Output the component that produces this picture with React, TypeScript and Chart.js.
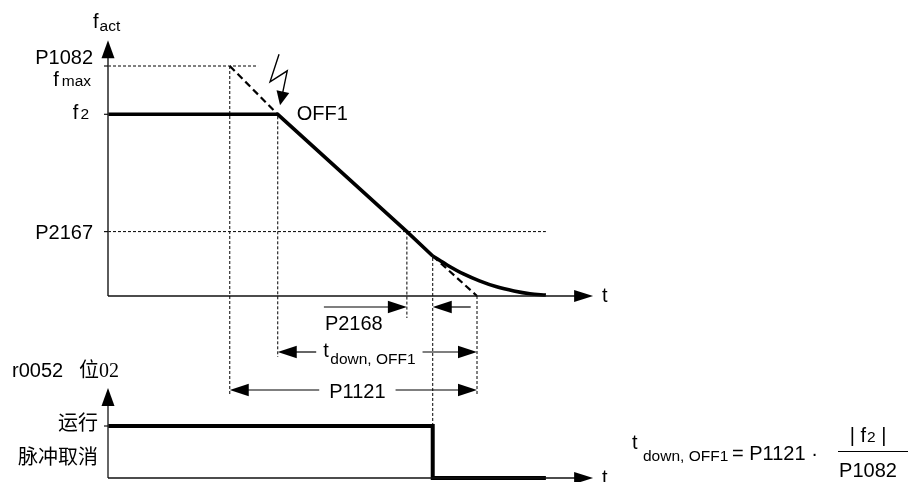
import { useEffect, useRef } from 'react';
import { Chart, registerables } from 'chart.js';

Chart.register(...registerables);

// ---- frequency levels (Hz) ----
const F_MAX = 50; // P1082 / f max
const F_2 = 39.5; // f2
const F_P2167 = 14; // P2167
const F_AXIS_END = 55.6;

// ---- key times (s) ----
const T_FMAX = 4.95;
const T_FMAX_GUIDE_END = 6.1;
const T_OFF1 = 6.9;
const T_P2167 = 12.15;
const T_CURVE = 13.2;
const T_RAMP_END = 15.0;
const T_STOP = 17.8;
const T_AXIS_END = 19.72;

// ---- series ----
const holdTimes = [0, T_OFF1, T_P2167, T_CURVE];
const holdFreqs = [F_2, F_2, F_P2167, 8.7];
const decayTimes = [13.2, 13.8, 14.45, 15.1, 15.8, 16.5, 17.15, 17.8];
const decayFreqs = [8.7, 6.7, 4.8, 3.3, 2.0, 1.1, 0.5, 0.2];
const rampUpperTimes = [T_FMAX, T_OFF1];
const rampUpperFreqs = [F_MAX, F_2];
const rampLowerTimes = [T_CURVE, T_RAMP_END];
const rampLowerFreqs = [8.7, 0];

// ---- pulse signal r0052 bit 02 ----
const RUN = 1;
const CANCEL = 0;
const S_AXIS_END = 1.73;
const sigTimes = [0, T_CURVE, T_CURVE, T_STOP];
const sigLevels = [RUN, RUN, CANCEL, CANCEL];

// ---- labels ----
const SANS = "'Liberation Sans', Arial, Helvetica, sans-serif";
const CJK = "'Liberation Serif', 'Noto Sans CJK SC', serif";

const pts = (xs: number[], ys: number[]) => xs.map((x, i) => ({ x, y: ys[i] }));

export default function App() {
  const ref = useRef<HTMLCanvasElement>(null);

  useEffect(() => {
    document.body.style.margin = '0';
    const canvas = ref.current!;
    const W = 908, H = 482;
    const X0 = 108, PX_PER_S = 24.6;
    const Y0 = 296, PX_PER_HZ = 4.6;
    const S0 = 478, PX_PER_SIG = 52;

    const deco = {
      id: 'deco',
      afterDatasetsDraw(chart: any) {
        const ctx: CanvasRenderingContext2D = chart.ctx;
        const sx = chart.scales.x, sy = chart.scales.y, ss = chart.scales.y2;
        const px = (t: number) => sx.getPixelForValue(t);
        const py = (f: number) => sy.getPixelForValue(f);
        const ps = (s: number) => ss.getPixelForValue(s);

        const line = (p: number[][], w: number, color = '#000', dash: number[] = []) => {
          ctx.save();
          ctx.beginPath();
          ctx.setLineDash(dash);
          ctx.lineWidth = w;
          ctx.strokeStyle = color;
          p.forEach(([x, y], i) => (i ? ctx.lineTo(x, y) : ctx.moveTo(x, y)));
          ctx.stroke();
          ctx.restore();
        };
        const head = (tx: number, ty: number, dx: number, dy: number, len: number, hw: number, color = '#000') => {
          const n = Math.hypot(dx, dy);
          const ux = dx / n, uy = dy / n;
          const bx = tx - ux * len, by = ty - uy * len;
          ctx.save();
          ctx.fillStyle = color;
          ctx.beginPath();
          ctx.moveTo(tx, ty);
          ctx.lineTo(bx - uy * hw, by + ux * hw);
          ctx.lineTo(bx + uy * hw, by - ux * hw);
          ctx.closePath();
          ctx.fill();
          ctx.restore();
        };
        const text = (s: string, x: number, y: number, font: string, align: CanvasTextAlign = 'left', base: CanvasTextBaseline = 'alphabetic') => {
          ctx.save();
          ctx.font = font;
          ctx.fillStyle = '#000';
          ctx.textAlign = align;
          ctx.textBaseline = base;
          ctx.fillText(s, x, y);
          ctx.restore();
        };
        const width = (s: string, font: string) => {
          ctx.save();
          ctx.font = font;
          const w = ctx.measureText(s).width;
          ctx.restore();
          return w;
        };
        const F20 = `20px ${SANS}`;
        const F15 = `15.5px ${SANS}`;
        const AX = '#333';

        const ax = px(0);
        // ---- top axes ----
        line([[ax, py(0)], [ax, py(F_AXIS_END) + 17]], 1.6, AX);
        head(ax, py(F_AXIS_END), 0, -1, 18, 6.5);
        line([[ax, py(0)], [px(T_AXIS_END) - 18, py(0)]], 1.3, '#111');
        head(px(T_AXIS_END), py(0), 1, 0, 19, 6);
        // ticks
        [F_MAX, F_2, F_P2167].forEach((f) => line([[ax - 4, py(f)], [ax, py(f)]], 1.2, '#111'));

        // ---- bottom axes ----
        line([[ax, ps(CANCEL)], [ax, ps(S_AXIS_END) + 17]], 1.5, AX);
        head(ax, ps(S_AXIS_END), 0, -1, 18, 6.5);
        line([[ax, ps(CANCEL)], [px(T_AXIS_END) - 18, ps(CANCEL)]], 1.3, '#111');
        head(px(T_AXIS_END), ps(CANCEL), 1, 0, 19, 6);
        line([[ax - 4, ps(RUN)], [ax, ps(RUN)]], 1.2, '#111');

        // ---- dimension rows ----
        const r1 = py(0) + 11, r2 = py(0) + 56, r3 = py(0) + 94;
        const DOT = [3, 2];
        line([[px(T_FMAX), py(F_MAX)], [px(T_FMAX), r3 + 6]], 1, '#000', DOT);
        line([[px(T_OFF1), py(F_2) + 2], [px(T_OFF1), r2 + 5]], 1, '#000', DOT);
        line([[px(T_P2167), py(F_P2167)], [px(T_P2167), r1 + 11]], 1, '#000', DOT);
        line([[px(T_CURVE), py(8.7) + 2], [px(T_CURVE), ps(RUN)]], 1, '#000', DOT);
        line([[px(T_RAMP_END), py(0)], [px(T_RAMP_END), r3 + 6]], 1, '#000', DOT);

        const HL = 19, HW = 6.3;
        // row 1: P2168
        line([[px(T_P2167) - 83, r1], [px(T_P2167) - HL + 1, r1]], 1.2);
        head(px(T_P2167), r1, 1, 0, HL, HW);
        line([[px(T_CURVE) + 38, r1], [px(T_CURVE) + HL - 1, r1]], 1.2);
        head(px(T_CURVE), r1, -1, 0, HL, HW);
        text('P2168', px(T_P2167) - 82, r1 + 23, F20);

        // row 2: t down, OFF1
        const sub = 'down, OFF1';
        const w2 = width('t', F20) + 1.5 + width(sub, F15);
        const c2 = px((T_OFF1 + T_RAMP_END) / 2) - 8;
        const l2 = c2 - w2 / 2, rr2 = c2 + w2 / 2;
        text('t', l2, r2 + 5, F20);
        text(sub, l2 + width('t', F20) + 1.5, r2 + 12, F15);
        line([[px(T_OFF1) + HL - 1, r2], [l2 - 7, r2]], 1.2);
        head(px(T_OFF1), r2, -1, 0, HL, HW);
        line([[rr2 + 7, r2], [px(T_RAMP_END) - HL + 1, r2]], 1.2);
        head(px(T_RAMP_END), r2, 1, 0, HL, HW);

        // row 3: P1121
        const w3 = width('P1121', F20);
        const c3 = px((T_FMAX + T_RAMP_END) / 2) + 4;
        text('P1121', c3, r3 + 8, F20, 'center');
        line([[px(T_FMAX) + HL - 1, r3], [c3 - w3 / 2 - 10, r3]], 1.2);
        head(px(T_FMAX), r3, -1, 0, HL, HW);
        line([[c3 + w3 / 2 + 10, r3], [px(T_RAMP_END) - HL + 1, r3]], 1.2);
        head(px(T_RAMP_END), r3, 1, 0, HL, HW);

        // ---- lightning bolt at OFF1 ----
        const ox = px(T_OFF1), oy = py(F_2);
        const tipX = ox + 2.3, tipY = oy - 9;
        const pX = ox + 9.5, pY = oy - 43.5;
        const dx = tipX - pX, dy = tipY - pY, dn = Math.hypot(dx, dy);
        line([[ox + 1.3, oy - 60], [ox - 7.7, oy - 32.5], [pX, pY], [tipX - (dx / dn) * 13, tipY - (dy / dn) * 13]], 1.4);
        head(tipX, tipY, dx, dy, 14, 6.5);

        // ---- labels: top panel ----
        const fW = width('f', F20);
        text('f', ax - 15, py(F_AXIS_END) - 12, F20);
        text('act', ax - 15 + fW + 1, py(F_AXIS_END) - 9, F15);
        text('P1082', ax - 15, py(F_MAX) - 2, F20, 'right');
        const maxW = width('max', F15);
        text('max', ax - 17, py(F_MAX) + 20, F15, 'right');
        text('f', ax - 17 - maxW - 3, py(F_MAX) + 20, F20, 'right');
        const twoW = width('2', F15);
        text('2', ax - 19, py(F_2) + 5, F15, 'right');
        text('f', ax - 19 - twoW - 2, py(F_2) + 5, F20, 'right');
        text('P2167', ax - 15, py(F_P2167) + 7, F20, 'right');
        text('OFF1', ox + 19, oy + 6, F20);
        text('t', px(T_AXIS_END) + 9, py(0) + 6, F20);

        // ---- labels: bottom panel ----
        text('r0052', 12, ps(S_AXIS_END) - 11, F20);
        text('位02', 79, ps(S_AXIS_END) - 11, `20px ${CJK}`);
        text('运行', ax - 10, ps(RUN) - 1, `20px ${CJK}`, 'right', 'middle');
        text('脉冲取消', ax - 10, ps(CANCEL) - 19, `20px ${CJK}`, 'right', 'middle');
        text('t', px(T_AXIS_END) + 9, ps(CANCEL) + 6, F20);

        // ---- formula ----
        const fx = 632, fb = 460;
        text('t', fx, fb - 11, F20);
        text(sub, fx + 11, fb + 1, F15);
        text('= P1121 ·', fx + 100, fb, F20);
        const cx = 868;
        const a = '| f', b = '2', c = ' |';
        const wa = width(a, F20), wb = width(b, F15), wc = width(c, F20);
        const left = cx - (wa + wb + wc + 1) / 2;
        text(a, left, fb - 18, F20);
        text(b, left + wa + 1, fb - 18, F15);
        text(c, left + wa + wb + 1, fb - 18, F20);
        line([[838, fb - 8.5], [908, fb - 8.5]], 1);
        text('P1082', cx, fb + 17, F20, 'center');
      },
    };

    const base = { showLine: true, pointRadius: 0, borderColor: '#000', clip: false as any, tension: 0 };
    const chart = new Chart(canvas, {
      type: 'scatter',
      data: {
        datasets: [
          { ...base, data: pts([0, T_FMAX_GUIDE_END], [F_MAX, F_MAX]), borderWidth: 1, borderDash: [3, 2] },
          { ...base, data: pts([0, T_STOP], [F_P2167, F_P2167]), borderWidth: 1, borderDash: [3, 2] },
          { ...base, data: pts(rampUpperTimes, rampUpperFreqs), borderWidth: 2.2, borderDash: [7, 4] },
          { ...base, data: pts(rampLowerTimes, rampLowerFreqs), borderWidth: 2.2, borderDash: [7, 4] },
          { ...base, data: pts(holdTimes, holdFreqs), borderWidth: 3.6 },
          { ...base, data: pts(decayTimes, decayFreqs), borderWidth: 3.6, cubicInterpolationMode: 'monotone' },
          { ...base, data: pts(sigTimes, sigLevels), borderWidth: 4, yAxisID: 'y2' },
        ] as any,
      },
      options: {
        responsive: false,
        animation: false,
        events: [],
        layout: { padding: 0 },
        plugins: { legend: { display: false }, tooltip: { enabled: false } },
        scales: {
          x: { type: 'linear', display: false, min: -X0 / PX_PER_S, max: (W - X0) / PX_PER_S },
          y: { type: 'linear', display: false, min: (Y0 - H) / PX_PER_HZ, max: Y0 / PX_PER_HZ },
          y2: { type: 'linear', display: false, min: (S0 - H) / PX_PER_SIG, max: S0 / PX_PER_SIG },
        },
      },
      plugins: [deco],
    });
    return () => chart.destroy();
  }, []);

  return (
    <div style={{ width: 908, height: 482, background: '#fff' }}>
      <canvas ref={ref} width={908} height={482} style={{ display: 'block' }} />
    </div>
  );
}
